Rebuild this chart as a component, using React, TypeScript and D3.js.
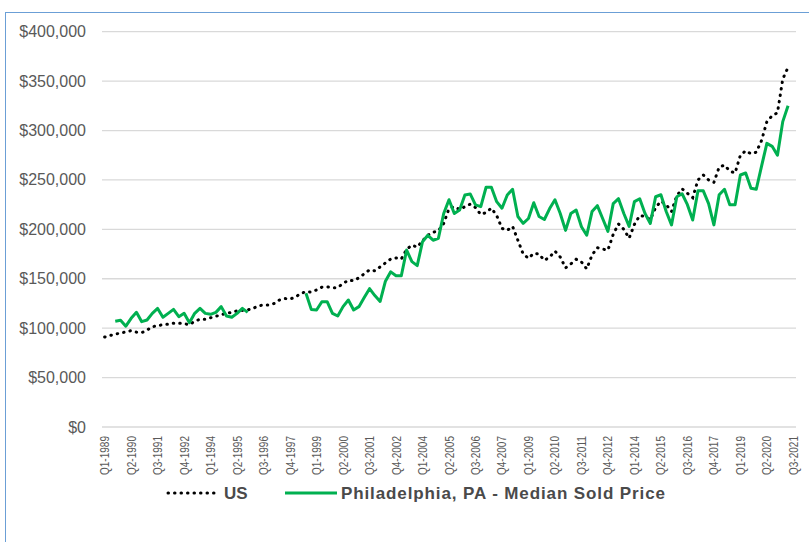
import React from 'react';
import * as d3 from 'd3';

// quarters Q1-1989 .. Q3-2021
const years = d3.range(1989, 2022);
const categories: string[] = [];
years.forEach(y => {
  [1, 2, 3, 4].forEach(q => {
    if (y === 2021 && q > 3) return;
    categories.push(`Q${q}-${y}`);
  });
});

// values in $ thousands
const usValues: (number | null)[] = [
  91, 92.5, 94, 95,
  96.3, 97.5, 96, 95.5,
  98, 101.5, 102.5, 103.5,
  104, 105, 105, 104.5,
  103.5, 107, 109, 109,
  110.5, 112, 113.5, 115,
  116, 117.5, 118, 118.5,
  120, 122.5, 123.5, 123.5,
  125, 128.5, 130, 129.5,
  131.5, 135, 137, 136.5,
  138.7, 141.5, 141.8, 141,
  141, 145.3, 148.5, 148,
  151, 155, 159, 158,
  162, 166, 170, 171,
  170, 179.8, 184, 182,
  188.5, 194, 197, 198.5,
  206, 221, 223, 220,
  223, 225.5, 222, 215,
  217, 221.5, 214, 201,
  199, 203, 189, 175,
  170.7, 175.8, 175, 168.5,
  172, 178, 172, 161,
  165, 169.7, 167, 160,
  174, 181.5, 180, 179,
  195, 205.5, 200, 191,
  205, 214, 213, 210,
  222, 228.5, 225, 218,
  234, 241, 236.5, 232,
  250, 255, 250, 247.5,
  263, 265, 259, 257,
  275, 279.5, 276.5, 278,
  290, 309, 315, 318,
  352, 364, null,
];

const phillyValues: (number | null)[] = [
  null, null, 107, 108,
  102, 110, 116, 106.6,
  108.3, 115, 120, 111,
  115, 119, 111.6, 115,
  105.6, 115, 120, 115,
  114, 116, 121.8, 112.3,
  111, 115, 120, 116,
  null, null, null, null,
  null, null, null, null,
  null, null, 135.4, 119,
  118.4, 126.8, 126.8, 115,
  112.3, 121.8, 128.5, 118.4,
  121.8, 131, 140, 133,
  127, 147.5, 157, 153,
  153, 179, 167.3, 163.3,
  187.5, 194, 189, 191,
  216, 230, 216, 219.6,
  234.8, 235.8, 224.7, 223,
  242.6, 242.6, 228, 221.4,
  234.8, 240.6, 213, 206,
  211, 227, 213, 210,
  221, 230, 216, 199,
  216, 219.6, 202.7, 194,
  218, 224, 211, 198,
  226, 231, 216, 203,
  228, 231, 216, 206,
  233, 235, 218, 204.5,
  233, 236, 225, 209.5,
  239, 239, 226, 204.5,
  235, 240.6, 225, 225,
  255, 257, 241.6, 240.6,
  264, 287, 284, 275,
  309, 325, null,
];

const yTicks = [0, 50, 100, 150, 200, 250, 300, 350, 400];

const seriesNames = ['US', 'Philadelphia, PA - Median Sold Price'];

const W = 809;
const H = 542;
const plot = { left: 102, right: 796, top: 31.7, bottom: 427 };

const App = () => {
  const x = d3.scalePoint<string>().domain(categories).range([plot.left, plot.right]).padding(0.5);
  const y = d3.scaleLinear().domain([0, 400]).range([plot.bottom, plot.top]);

  const line = d3
    .line<number | null>()
    .defined(d => d != null)
    .x((_, i) => x(categories[i]) as number)
    .y(d => y(d as number));

  const fmt = (v: number) => '$' + d3.format(',')(v * 1000);

  return (
    <svg width={W} height={H} style={{ position: 'fixed', left: 0, top: 0, background: '#fff' }}
      fontFamily="'Liberation Sans', Arial, sans-serif">
      <rect x={5.5} y={12.5} width={W + 20} height={H + 20} fill="#fff" stroke="#6b9fd6" strokeWidth={1} />

      {yTicks.map(t => (
        <g key={t}>
          <line x1={plot.left} x2={plot.right} y1={y(t)} y2={y(t)} stroke="#d9d9d9" strokeWidth={1.3} />
          <text x={86} y={y(t)} textAnchor="end" dominantBaseline="central" fontSize={16} fill="#595959">
            {fmt(t)}
          </text>
        </g>
      ))}

      {categories.map((c, i) =>
        i % 5 === 0 ? (
          <text key={c} transform={`translate(${x(c)},436) rotate(-90)`} textAnchor="end"
            dominantBaseline="central" fontSize={13} fill="#595959"
            textLength={39} lengthAdjust="spacingAndGlyphs">
            {c}
          </text>
        ) : null
      )}

      <path d={line(usValues) || ''} fill="none" stroke="#000" strokeWidth={3}
        strokeDasharray="0.5 6" strokeLinecap="round" />
      <path d={line(phillyValues) || ''} fill="none" stroke="#00b050" strokeWidth={3}
        strokeLinejoin="round" />

      {/* legend */}
      <g fontSize={17} fontWeight="bold" fill="#4a4a4a">
        <line x1={168} x2={218} y1={493} y2={493} stroke="#000" strokeWidth={3}
          strokeDasharray="0.5 6" strokeLinecap="round" />
        <text x={224} y={493} dominantBaseline="central">{seriesNames[0]}</text>
        <line x1={285} x2={337} y1={493} y2={493} stroke="#00b050" strokeWidth={3} />
        <text x={341} y={493} dominantBaseline="central" textLength={324} lengthAdjust="spacing">
          {seriesNames[1]}
        </text>
      </g>
    </svg>
  );
};

export default App;
